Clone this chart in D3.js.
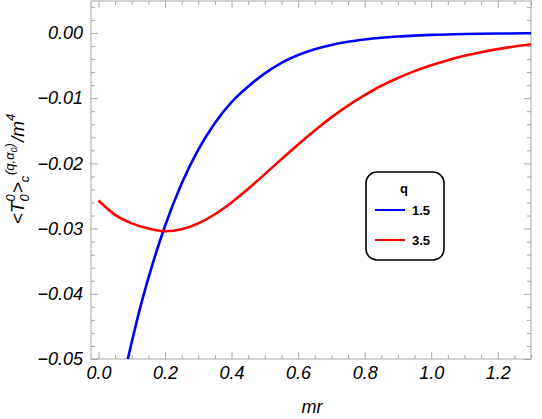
<!DOCTYPE html>
<html><head><meta charset="utf-8">
<script src="https://cdn.jsdelivr.net/npm/d3@7"></script>
<style>
body{margin:0;background:#fff;}
svg{display:block;font-family:"Liberation Sans",Arial,sans-serif;}
</style></head>
<body><svg id="c" width="542" height="419"></svg>
<script>
// ---- data ----
const blueMr  = [0.08,0.10,0.125,0.15,0.175,0.20,0.25,0.30,0.35,0.40,0.45,0.50,0.55,0.60,0.65,0.70,0.75,0.80,0.85,0.90,0.95,1.0,1.1,1.2,1.3];
const blueVal = [-0.0518,-0.0474,-0.0422,-0.0376,-0.0334,-0.0296,-0.0231,-0.0179,-0.0138,-0.0106,-0.0082,-0.0062,-0.00458,-0.00338,-0.00250,-0.00184,-0.00136,-0.00101,-0.00074,-0.00055,-0.00041,-0.00030,-0.00016,-0.00009,-0.00005];
const redMr  = [0.0,0.05,0.10,0.15,0.20,0.25,0.30,0.35,0.40,0.45,0.50,0.55,0.60,0.65,0.70,0.75,0.80,0.85,0.90,0.95,1.0,1.05,1.1,1.15,1.2,1.25,1.3];
const redVal = [-0.0257,-0.0279,-0.0292,-0.0300,-0.0304,-0.0301,-0.0292,-0.0278,-0.0260,-0.0239,-0.02165,-0.01935,-0.0171,-0.01495,-0.01295,-0.01115,-0.00955,-0.0081,-0.0069,-0.00585,-0.00495,-0.00417,-0.00351,-0.00295,-0.00248,-0.00208,-0.00174];
const seriesNames = ["1.5","3.5"];
const seriesColors = ["#0000ff","#ff0000"];
const xTicks = [0.0,0.2,0.4,0.6,0.8,1.0,1.2];
const yTicks = [0.00,-0.01,-0.02,-0.03,-0.04,-0.05];

const W=542,H=419, m={l:91,t:1,r:11,b:60};
const svg=d3.select("#c");
const x=d3.scaleLinear().domain([-0.0225,1.3]).range([m.l,W-m.r]);
const y=d3.scaleLinear().domain([-0.05,0.0049]).range([H-m.b,m.t]);

const minorX=d3.range(0,1.3001,0.05).map(v=>+v.toFixed(3)).filter(v=>!xTicks.some(t=>Math.abs(t-v)<1e-6));
const minorY=d3.range(-0.05,0.0049,0.002).map(v=>+v.toFixed(4)).filter(v=>!yTicks.some(t=>Math.abs(t-v)<1e-6));
const fmtX=d3.format(".1f"), fmtY=v=>d3.format(".2f")(v).replace("-","\u2212");
const grey="#a6a6a6";

function styleAxis(g){g.select(".domain").remove();g.selectAll("line").attr("stroke",grey);
 g.selectAll("text").attr("font-size",18).attr("font-style","italic").attr("fill","#000");}

// bottom
svg.append("g").attr("transform",`translate(0,${H-m.b})`).call(d3.axisBottom(x).tickValues(xTicks).tickSize(-7).tickPadding(7).tickFormat(fmtX)).call(styleAxis);
svg.append("g").attr("transform",`translate(0,${H-m.b})`).call(d3.axisBottom(x).tickValues(minorX).tickSize(-4).tickFormat("")).call(styleAxis);
// top
svg.append("g").attr("transform",`translate(0,${m.t})`).call(d3.axisTop(x).tickValues(xTicks).tickSize(-7).tickFormat("")).call(styleAxis);
svg.append("g").attr("transform",`translate(0,${m.t})`).call(d3.axisTop(x).tickValues(minorX).tickSize(-4).tickFormat("")).call(styleAxis);
// left
svg.append("g").attr("transform",`translate(${m.l},0)`).call(d3.axisLeft(y).tickValues(yTicks).tickSize(-7).tickPadding(8).tickFormat(fmtY)).call(styleAxis);
svg.append("g").attr("transform",`translate(${m.l},0)`).call(d3.axisLeft(y).tickValues(minorY).tickSize(-4).tickFormat("")).call(styleAxis);
// right
svg.append("g").attr("transform",`translate(${W-m.r},0)`).call(d3.axisRight(y).tickValues(yTicks).tickSize(-7).tickFormat("")).call(styleAxis);
svg.append("g").attr("transform",`translate(${W-m.r},0)`).call(d3.axisRight(y).tickValues(minorY).tickSize(-4).tickFormat("")).call(styleAxis);

// frame
svg.append("rect").attr("x",m.l).attr("y",m.t).attr("width",W-m.l-m.r).attr("height",H-m.t-m.b)
  .attr("fill","none").attr("stroke",grey).attr("stroke-width",1);

// clip
svg.append("clipPath").attr("id","clip").append("rect").attr("x",m.l).attr("y",m.t).attr("width",W-m.l-m.r).attr("height",H-m.t-m.b);

const line=d3.line().x(d=>x(d[0])).y(d=>y(d[1])).curve(d3.curveMonotoneX);
const series=[d3.zip(blueMr,blueVal), d3.zip(redMr,redVal)];
series.forEach((s,i)=>{
 svg.append("path").attr("clip-path","url(#clip)").attr("d",line(s)).attr("fill","none")
  .attr("stroke",seriesColors[i]).attr("stroke-width",2.6);
});

// x label
svg.append("text").attr("x",312).attr("y",413).attr("text-anchor","middle").attr("font-size",18)
 .attr("font-style","italic").text("mr");

// y label
const yl=svg.append("text").attr("transform","translate(24,169) rotate(-90)").attr("text-anchor","middle")
 .attr("font-style","italic").attr("font-size",19);
yl.append("tspan").text("<T");
yl.append("tspan").attr("font-size",13).attr("dy",5).text("0");
yl.append("tspan").attr("font-size",13).attr("dx",-7.2).attr("dy",-14).text("0");
yl.append("tspan").attr("dy",9).attr("dx",1).text(">");
yl.append("tspan").attr("font-size",13).attr("dy",5).text("c");
yl.append("tspan").attr("font-size",13).attr("dx",-3).attr("dy",-15).text(" (q,\u03b1");
yl.append("tspan").attr("font-size",9).attr("dy",3).text("0");
yl.append("tspan").attr("font-size",13).attr("dy",-3).text(")");
yl.append("tspan").attr("dy",10).attr("dx",1).text("/m");
yl.append("tspan").attr("font-size",13).attr("dy",-9).text("4");

// legend
const lg=svg.append("g");
lg.append("rect").attr("x",366).attr("y",172).attr("width",78).attr("height",88).attr("rx",11)
 .attr("fill","#fff").attr("stroke","#000").attr("stroke-width",1.6);
lg.append("text").attr("x",404).attr("y",193).attr("text-anchor","middle").attr("font-weight","bold").attr("font-size",13).text("q");
seriesNames.forEach((n,i)=>{
 const yy=210+i*30;
 lg.append("line").attr("x1",375).attr("x2",405).attr("y1",yy).attr("y2",yy).attr("stroke",seriesColors[i]).attr("stroke-width",2);
 lg.append("text").attr("x",412).attr("y",yy+5).attr("font-weight","bold").attr("font-size",13).text(n);
});
</script></body></html>
